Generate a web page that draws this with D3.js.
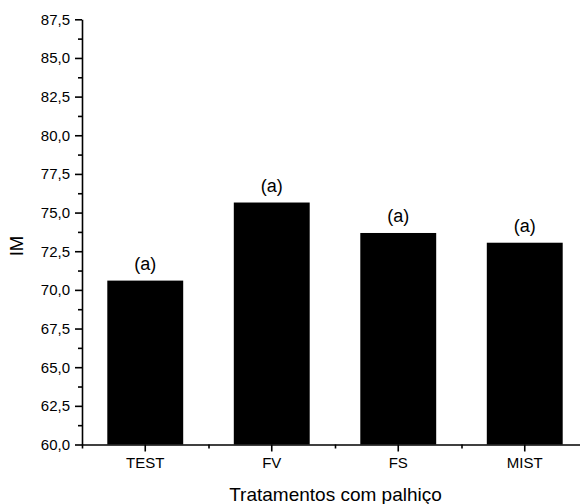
<!DOCTYPE html>
<html>
<head>
<meta charset="utf-8">
<script src="https://cdn.jsdelivr.net/npm/d3@7"></script>
<style>
html,body{margin:0;padding:0;background:#fff;}
svg{display:block;font-family:"Liberation Sans",Arial,sans-serif;}
</style>
</head>
<body>
<svg id="chart" width="580" height="504"></svg>
<script>
const categories = ["TEST", "FV", "FS", "MIST"];
const values = [70.6, 75.65, 73.68, 73.05];
const letters = ["(a)", "(a)", "(a)", "(a)"];
const yTicks = [60, 62.5, 65, 67.5, 70, 72.5, 75, 77.5, 80, 82.5, 85, 87.5];
const yMinor = [61.25, 63.75, 66.25, 68.75, 71.25, 73.75, 76.25, 78.75, 81.25, 83.75, 86.25];
const xMinor = [0.5, 1.5, 2.5, 3.5, 4.5];
const yTitle = "IM";
const xTitle = "Tratamentos com palhiço";

(function () {
const svg = d3.select("#chart");
const mLeft = 82, mRight = 588, mTop = 19.3, mBottom = 444.5;

const x = d3.scaleBand().domain(categories).range([mLeft, mRight]).paddingInner(0.4).paddingOuter(0.2);
const xLin = d3.scaleLinear().domain([0.5, 4.5]).range([mLeft, mRight]);
const y = d3.scaleLinear().domain([60, 87.5]).range([mBottom, mTop]);

const fmt = d => d3.format(".1f")(d).replace(".", ",");

// bars
svg.append("g").selectAll("rect").data(categories).join("rect")
  .attr("x", d => x(d))
  .attr("width", x.bandwidth())
  .attr("y", (d, i) => y(values[i]))
  .attr("height", (d, i) => y(60) - y(values[i]))
  .attr("fill", "#000");

// letters
svg.append("g").selectAll("text").data(categories).join("text")
  .attr("x", d => x(d) + x.bandwidth() / 2)
  .attr("y", (d, i) => y(values[i]) - 11)
  .attr("text-anchor", "middle")
  .attr("font-size", 18)
  .attr("fill", "#000")
  .text((d, i) => letters[i]);

// y axis
const yAxis = svg.append("g").attr("transform", `translate(${mLeft},0)`)
  .call(d3.axisLeft(y).tickValues(yTicks).tickFormat(fmt).tickSize(7).tickSizeOuter(0).tickPadding(5));
yAxis.selectAll("text").attr("font-size", 15).attr("fill", "#000");
const yAxisMinor = svg.append("g").attr("transform", `translate(${mLeft},0)`)
  .call(d3.axisLeft(y).tickValues(yMinor).tickFormat("").tickSize(4).tickSizeOuter(0));
yAxisMinor.select(".domain").remove();

// x axis
const xAxis = svg.append("g").attr("transform", `translate(0,${mBottom})`)
  .call(d3.axisBottom(x).tickSize(7).tickSizeOuter(0).tickPadding(6));
xAxis.selectAll("text").attr("font-size", 15).attr("fill", "#000");
const xAxisMinor = svg.append("g").attr("transform", `translate(0,${mBottom})`)
  .call(d3.axisBottom(xLin).tickValues(xMinor).tickFormat("").tickSize(4).tickSizeOuter(0));
xAxisMinor.select(".domain").remove();

svg.selectAll("g").attr("font-family", null);
svg.selectAll(".domain, .tick line").attr("stroke", "#000").attr("stroke-width", 1.6);

// titles
svg.append("text")
  .attr("transform", `translate(23,246) rotate(-90)`)
  .attr("text-anchor", "middle")
  .attr("font-size", 18.5)
  .attr("fill", "#000")
  .text(yTitle);

svg.append("text")
  .attr("x", 335.5)
  .attr("y", 500.5)
  .attr("text-anchor", "middle")
  .attr("font-size", 19)
  .attr("fill", "#000")
  .text(xTitle);
})();
</script>
</body>
</html>
